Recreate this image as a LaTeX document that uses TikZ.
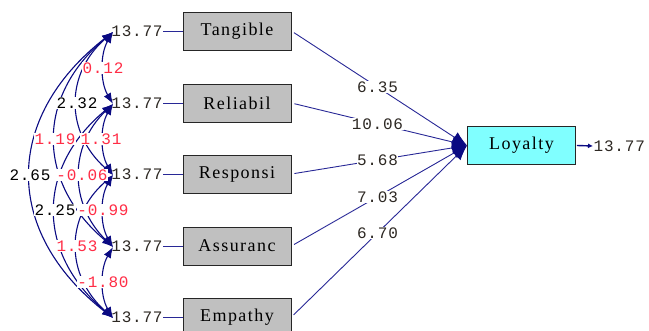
\documentclass[tikz,border=0pt]{standalone}
\usepackage{fontspec}
\setmainfont{Liberation Serif}
\newfontfamily\numfont[LetterSpace=5]{Liberation Mono}
\newfontfamily\boxfont[LetterSpace=8]{Liberation Serif}
\usetikzlibrary{arrows.meta}
\definecolor{lnavy}{RGB}{10,10,130}
\definecolor{pathblue}{RGB}{40,40,150}
\definecolor{boxgray}{RGB}{192,192,192}
\definecolor{lcyan}{RGB}{128,255,255}
\definecolor{numgray}{RGB}{45,40,35}
\definecolor{covred}{RGB}{255,45,70}
\begin{document}
\begin{tikzpicture}[x=1pt,y=-1pt,
  obs/.style={draw=black!85, fill=boxgray, minimum width=108pt, minimum height=38pt, inner sep=0pt, line width=0.9pt, font=\boxfont\fontsize{18}{18}\selectfont},
  lat/.style={obs, fill=lcyan},
  num/.style={font=\numfont\fontsize{16}{16}\selectfont, text=numgray, inner sep=0.5pt},
  numlab/.style={num, fill=white},
  redlab/.style={num, fill=white, text=covred},
  blklab/.style={num, fill=white, text=black},
  cov/.style={draw=lnavy, line width=1.1pt, {Latex[length=11pt,width=8pt]}-{Latex[length=11pt,width=8pt]}},
  errline/.style={draw=pathblue, line width=0.9pt},
  pathline/.style={draw=pathblue, line width=0.9pt, -{Latex[length=15pt,width=12pt,color=lnavy]}, shorten <=3pt}
]
\useasboundingbox (0,0) rectangle (649,331);

% observed boxes
\node[obs] (b1) at (237,31) {Tangible};
\node[obs] (b2) at (237,103) {Reliabil};
\node[obs] (b3) at (237,174) {Responsi};
\node[obs] (b4) at (237,246) {Assuranc};
\node[obs] (b5) at (237,317) {Empathy};
\node[lat] (ly) at (521.5,145.5) {Loyalty};

% error values
\node[num] (t1) at (137,31) {13.77};
\node[num] (t2) at (137,103) {13.77};
\node[num] (t3) at (137,174) {13.77};
\node[num] (t4) at (137,246) {13.77};
\node[num] (t5) at (137,317) {13.77};
\node[num, anchor=west] (t6) at (593,146) {13.77};

\foreach \i in {1,...,5}{\draw[errline] (t\i.east) -- (b\i.west);}
\draw[errline, draw=lnavy, line width=1.4pt, -{Latex[length=5pt,width=5pt]}] (ly.east) ++(1,0) -- (t6.west);

% error points for covariances
\coordinate (e1) at (113,32);
\coordinate (e2) at (113,104);
\coordinate (e3) at (113,175);
\coordinate (e4) at (113,247);
\coordinate (e5) at (113,318);

% covariance curves
\draw[cov] (e1) .. controls (100,54) and (100,82) .. (e2);
\draw[cov] (e2) .. controls (100,126) and (100,153) .. (e3);
\draw[cov] (e3) .. controls (100,197) and (100,225) .. (e4);
\draw[cov] (e4) .. controls (100,269) and (100,296) .. (e5);
\draw[cov] (e1) .. controls (65,74) and (65,132) .. (e3);
\draw[cov] (e2) .. controls (69,146) and (69,204) .. (e4);
\draw[cov] (e3) .. controls (65,217) and (65,275) .. (e5);
\draw[cov] (e1) .. controls (36,96) and (36,182) .. (e4);
\draw[cov] (e2) .. controls (36,168) and (36,253) .. (e5);
\draw[cov] (e1) .. controls (3,118) and (3,232) .. (e5);

% covariance labels
\node[redlab] (c12) at (103,68) {0.12};
\node[blklab] (c13) at (77,103) {2.32};
\node[redlab] (c14) at (55,139) {1.19};
\node[redlab] (c23) at (101,139) {1.31};
\node[blklab] (c15) at (30,175) {2.65};
\node[redlab] (c24) at (82,175) {-0.06};
\node[blklab] (c25) at (55,210) {2.25};
\node[redlab] (c34) at (103,210) {-0.99};
\node[redlab] (c35) at (77,246) {1.53};
\node[redlab] (c45) at (103,282) {-1.80};

% structural paths
\foreach \i/\v in {1/6.35,2/10.06,3/5.68,4/7.03,5/6.70}{
  \draw[pathline] (b\i.east) -- (ly.west) node[numlab, pos=0.49] (p\i) {\v};
}
\end{tikzpicture}
\end{document}
